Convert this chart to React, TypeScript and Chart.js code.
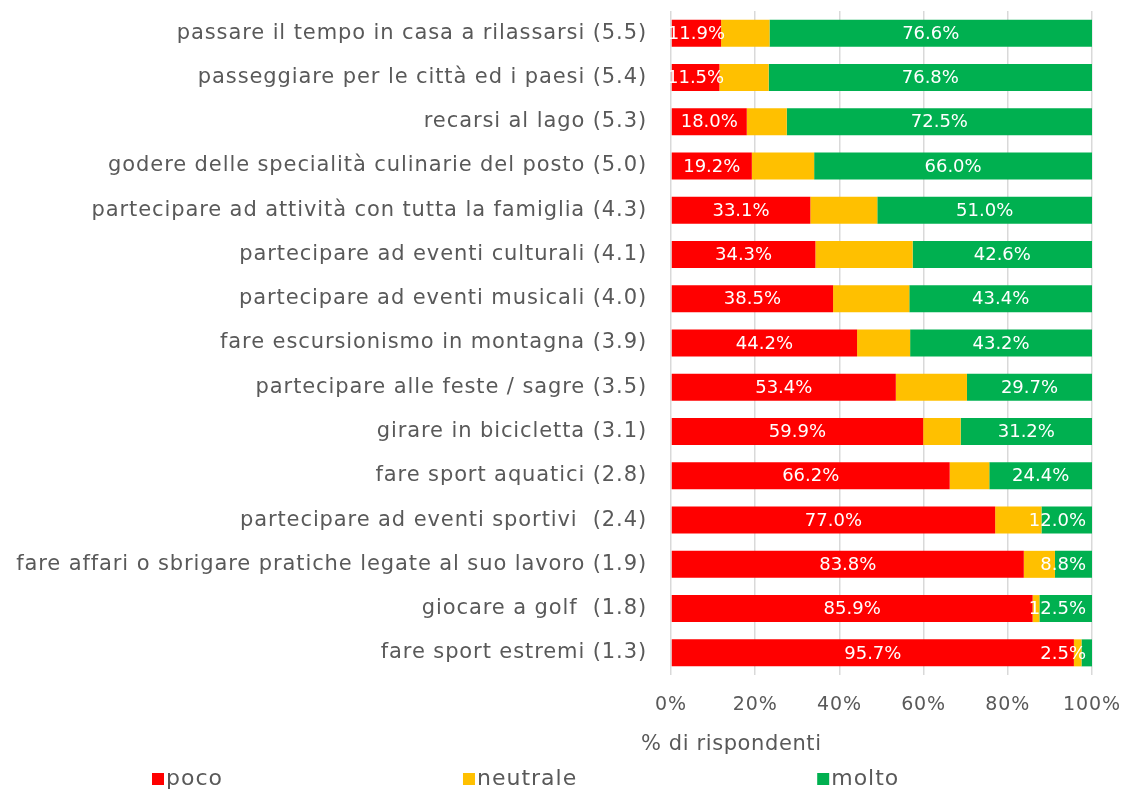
import React, { useEffect, useRef } from "react";
import { Chart, registerables } from "chart.js";

Chart.register(...registerables);

const categories = [
  "passare il tempo in casa a rilassarsi (5.5)",
  "passeggiare per le città ed i paesi (5.4)",
  "recarsi al lago (5.3)",
  "godere delle specialità culinarie del posto (5.0)",
  "partecipare ad attività con tutta la famiglia (4.3)",
  "partecipare ad eventi culturali (4.1)",
  "partecipare ad eventi musicali (4.0)",
  "fare escursionismo in montagna (3.9)",
  "partecipare alle feste / sagre (3.5)",
  "girare in bicicletta (3.1)",
  "fare sport aquatici (2.8)",
  "partecipare ad eventi sportivi  (2.4)",
  "fare affari o sbrigare pratiche legate al suo lavoro (1.9)",
  "giocare a golf  (1.8)",
  "fare sport estremi (1.3)",
];

const poco = [11.9, 11.5, 18.0, 19.2, 33.1, 34.3, 38.5, 44.2, 53.4, 59.9, 66.2, 77.0, 83.8, 85.9, 95.7];
const neutrale = [11.5, 11.7, 9.5, 14.8, 15.9, 23.1, 18.1, 12.6, 16.9, 8.9, 9.4, 11.0, 7.4, 1.6, 1.8];
const molto = [76.6, 76.8, 72.5, 66.0, 51.0, 42.6, 43.4, 43.2, 29.7, 31.2, 24.4, 12.0, 8.8, 12.5, 2.5];

const seriesNames = ["poco", "neutrale", "molto"];
const seriesColors = ["#FF0000", "#FFC000", "#00B050"];
const xTicks = [0, 20, 40, 60, 80, 100];
const axisTitle = "% di rispondenti";

const FONT = "'DejaVu Sans', sans-serif";
const TEXT_COLOR = "#595959";

const spacingPlugin = {
  id: "spacing",
  beforeLayout(chart: any) {
    chart.ctx.letterSpacing = "0.9px";
  },
  beforeDraw(chart: any) {
    chart.ctx.letterSpacing = "0.9px";
  },
};

const labelsPlugin = {
  id: "segLabels",
  afterDatasetsDraw(chart: any) {
    const ctx = chart.ctx;
    const area = chart.chartArea;
    ctx.save();
    ctx.letterSpacing = "0px";
    ctx.font = `18px ${FONT}`;
    ctx.fillStyle = "#FFFFFF";
    ctx.textAlign = "center";
    ctx.textBaseline = "middle";
    [0, 2].forEach((di) => {
      const meta = chart.getDatasetMeta(di);
      const data = chart.data.datasets[di].data as number[];
      meta.data.forEach((el: any, i: number) => {
        const txt = data[i].toFixed(1) + "%";
        const w = ctx.measureText(txt).width;
        let cx = (el.x + el.base) / 2;
        const maxX = area.right - 6 - w / 2;
        if (cx > maxX) cx = maxX;
        ctx.fillText(txt, cx, el.y + 1);
      });
    });
    ctx.restore();
  },
};

const extrasPlugin = {
  id: "extras",
  afterDraw(chart: any) {
    const ctx = chart.ctx;
    const area = chart.chartArea;
    ctx.save();
    ctx.fillStyle = TEXT_COLOR;
    ctx.font = `21px ${FONT}`;
    ctx.letterSpacing = "0.6px";
    ctx.textBaseline = "middle";
    ctx.textAlign = "left";
    ctx.fillText(axisTitle, area.left - 30, 745);
    // legend
    ctx.font = `22px ${FONT}`;
    ctx.letterSpacing = "1px";
    let x = 152;
    const y = 779;
    chart.data.datasets.forEach((ds: any) => {
      ctx.fillStyle = ds.backgroundColor;
      ctx.fillRect(x, y - 6, 12, 12);
      ctx.fillStyle = TEXT_COLOR;
      ctx.fillText(ds.label, x + 14, y);
      x += 14 + ctx.measureText(ds.label).width + 240;
    });
    ctx.restore();
  },
};

export default function App() {
  const ref = useRef<HTMLCanvasElement>(null);
  useEffect(() => {
    if (!ref.current) return;
    const chart = new Chart(ref.current, {
      type: "bar",
      data: {
        labels: categories,
        datasets: [poco, neutrale, molto].map((d, i) => ({
          label: seriesNames[i],
          data: d,
          backgroundColor: seriesColors[i],
          borderWidth: 0,
          barPercentage: 0.61,
          categoryPercentage: 1,
        })),
      },
      options: {
        indexAxis: "y",
        animation: false,
        responsive: false,
        maintainAspectRatio: false,
        layout: { padding: { top: 11, right: 34, left: 0, bottom: 0 } },
        plugins: {
          legend: { display: false },
          tooltip: { enabled: false },
          title: { display: false },
        },
        scales: {
          x: {
            stacked: true,
            min: 0,
            max: 100,
            afterFit: (s: any) => {
              s.height = 117;
              s.paddingLeft = 0;
              s.paddingRight = 0;
              s.paddingTop = 0;
              s.paddingBottom = 0;
            },
            afterBuildTicks: (s: any) => {
              s.ticks = xTicks.map((v) => ({ value: v }));
            },
            ticks: {
              callback: (v: any) => v + "%",
              color: TEXT_COLOR,
              font: { family: FONT, size: 19 },
              padding: 19,
            },
            grid: { color: "#D9D9D9", lineWidth: 1.5, drawTicks: false },
            border: { display: false },
          },
          y: {
            stacked: true,
            afterFit: (s: any) => {
              s.width = 671;
              s.paddingLeft = 0;
              s.paddingRight = 0;
              s.paddingTop = 0;
              s.paddingBottom = 0;
            },
            ticks: {
              color: TEXT_COLOR,
              font: { family: FONT, size: 21 },
              padding: 24,
              autoSkip: false,
            },
            grid: { display: false, drawTicks: false },
            border: { display: false },
          },
        },
      },
      plugins: [spacingPlugin, labelsPlugin, extrasPlugin],
    });
    return () => chart.destroy();
  }, []);
  return (
    <div style={{ position: "fixed", left: 0, top: 0, width: 1126, height: 792, background: "#fff" }}>
      <canvas ref={ref} width={1126} height={792} style={{ width: 1126, height: 792 }} />
    </div>
  );
}
